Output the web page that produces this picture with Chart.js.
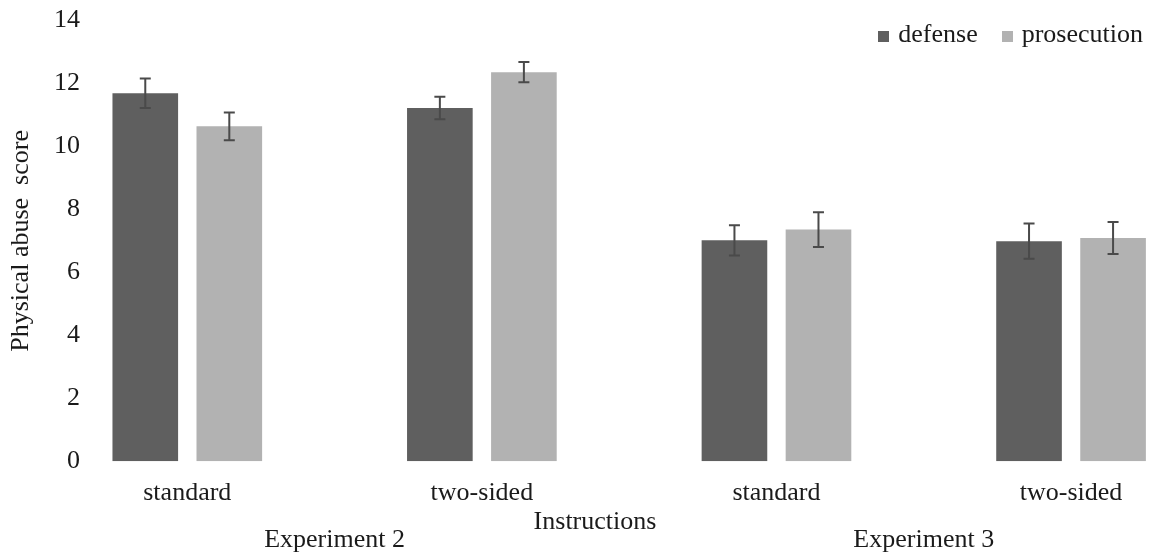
<!DOCTYPE html>
<html>
<head>
<meta charset="utf-8">
<script src="https://cdn.jsdelivr.net/npm/chart.js@4.4.0/dist/chart.umd.min.js"></script>
<style>
  body { margin: 0; background: #fff; }
  #wrap { position: relative; width: 1150px; height: 554px; }
  #legend { position: absolute; top: 19px; right: 7px; font: 26px/30px 'Liberation Serif', 'Times New Roman', serif; color: #1a1a1a; white-space: nowrap; }
  #legend .item { display: inline-block; margin-left: 24px; }
  #legend .box { display: inline-block; width: 11px; height: 11px; margin-right: 9px; vertical-align: middle; }
</style>
</head>
<body>
<div id="wrap"><canvas id="myChart"></canvas><div id="legend"></div></div>
<script>
var categories = ['standard', 'two-sided', 'standard', 'two-sided'];
var experiments = ['Experiment 2', 'Experiment 3'];
var seriesNames = ['defense', 'prosecution'];
var defense = [11.69, 11.22, 7.02, 6.99];
var defenseErr = [0.47, 0.36, 0.48, 0.56];
var prosecution = [10.64, 12.36, 7.36, 7.09];
var prosecutionErr = [0.44, 0.32, 0.55, 0.51];
var yTicks = [0, 2, 4, 6, 8, 10, 12, 14];

var serif = "'Liberation Serif', 'Times New Roman', serif";
var font = { family: serif, size: 26 };
Chart.defaults.color = '#1a1a1a';
Chart.defaults.font.family = serif;

// error bars drawn from the y scale
var errorBars = {
    id: 'errorBars',
    afterDatasetsDraw: function(chart) {
        var ctx = chart.ctx;
        var yScale = chart.scales.y;
        ctx.save();
        ctx.strokeStyle = '#4a4a4a';
        ctx.lineWidth = 2;
        chart.data.datasets.forEach(function(ds, i) {
            chart.getDatasetMeta(i).data.forEach(function(bar, j) {
                var v = ds.data[j].y, e = ds.errors[j];
                var top = yScale.getPixelForValue(v + e);
                var bottom = yScale.getPixelForValue(v - e);
                ctx.beginPath();
                ctx.moveTo(bar.x, top); ctx.lineTo(bar.x, bottom);
                ctx.moveTo(bar.x - 5.5, top); ctx.lineTo(bar.x + 5.5, top);
                ctx.moveTo(bar.x - 5.5, bottom); ctx.lineTo(bar.x + 5.5, bottom);
                ctx.stroke();
            });
        });
        ctx.restore();
    }
};

function toPoints(values) {
    return values.map(function(v, i) { return { x: i, y: v }; });
}

var ctx = document.getElementById('myChart');
var myBarChart = new Chart(ctx, {
    type: 'bar',
    data: {
        datasets: [{
            label: seriesNames[0],
            data: toPoints(defense),
            errors: defenseErr,
            backgroundColor: '#5f5f5f',
            borderWidth: 0,
            xAxisID: 'x'
        }, {
            label: seriesNames[1],
            data: toPoints(prosecution),
            errors: prosecutionErr,
            backgroundColor: '#b2b2b2',
            borderWidth: 0,
            xAxisID: 'x'
        }]
    },
    options: {
        responsive: true,
        maintainAspectRatio: false,
        animation: false,
        layout: { padding: { top: 20.5, left: 0, right: 0, bottom: 1 } },
        datasets: { bar: { categoryPercentage: 0.5705, barPercentage: 0.781 } },
        plugins: { legend: { display: false }, tooltip: { enabled: false } },
        scales: {
            x: {
                type: 'linear',
                min: -0.5,
                max: 3.268,
                offset: false,
                grid: { display: false, drawTicks: false },
                border: { display: false },
                afterBuildTicks: function(axis) {
                    axis.ticks = categories.map(function(c, i) { return { value: i }; });
                },
                afterFit: function(axis) { axis.height = 65.7; axis.paddingLeft = 0; axis.paddingRight = 0; },
                ticks: {
                    font: font, padding: 16, autoSkip: false, maxRotation: 0,
                    callback: function(v, i) { return categories[i]; }
                },
                title: { display: true, text: 'Instructions', font: font, padding: { top: 0, bottom: -10.6 } }
            },
            x2: {
                type: 'linear',
                position: 'bottom',
                min: -0.5,
                max: 3.268,
                offset: false,
                grid: { display: false, drawTicks: false },
                border: { display: false },
                afterBuildTicks: function(axis) {
                    axis.ticks = experiments.map(function(e, i) { return { value: i * 2 + 0.5 }; });
                },
                afterFit: function(axis) { axis.height = 26; axis.paddingLeft = 0; axis.paddingRight = 0; },
                ticks: {
                    font: { family: serif, size: 26, lineHeight: 1 }, padding: 0, autoSkip: false, maxRotation: 0,
                    callback: function(v, i) { return experiments[i]; }
                }
            },
            y: {
                min: yTicks[0],
                max: yTicks[yTicks.length - 1],
                grid: { display: false, drawTicks: false },
                border: { display: false },
                ticks: { stepSize: 2, mirror: true, crossAlign: 'far', padding: 14, font: font },
                title: { display: true, text: 'Physical abuse  score', font: font, padding: { top: 6, bottom: 0 } },
                afterFit: function(axis) { axis.width = 40; axis.paddingTop = 0; axis.paddingBottom = 0; }
            }
        }
    },
    plugins: [errorBars]
});

// legend as html, from the chart datasets
var legendEl = document.getElementById('legend');
myBarChart.data.datasets.forEach(function(ds) {
    var item = document.createElement('span');
    item.className = 'item';
    var box = document.createElement('span');
    box.className = 'box';
    box.style.background = ds.backgroundColor;
    item.appendChild(box);
    item.appendChild(document.createTextNode(ds.label));
    legendEl.appendChild(item);
});
</script>
</body>
</html>
